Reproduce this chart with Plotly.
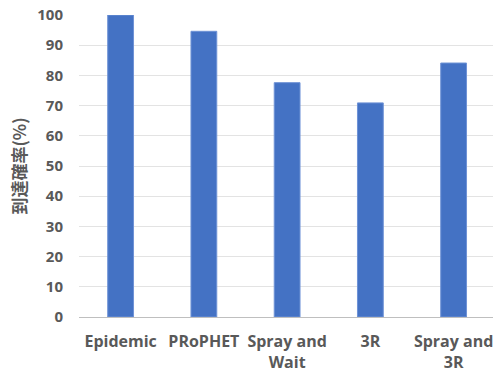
import plotly.graph_objects as go

categories = ["Epidemic", "PRoPHET", "Spray and<br>Wait", "3R", "Spray and<br>3R"]
values = [100, 94.6, 77.6, 70.9, 84.1]
y_ticks = [0, 10, 20, 30, 40, 50, 60, 70, 80, 90, 100]

FONT = "Open Sans"
GRAY = "#595959"

fig = go.Figure(
    go.Bar(
        x=list(range(len(categories))),
        y=values,
        marker=dict(color="#4472C4", line=dict(color="#6f93d6", width=1)),
        width=0.31,
    )
)

fig.update_layout(
    width=493,
    height=374,
    margin=dict(l=79, r=0, t=15, b=57),
    paper_bgcolor="white",
    plot_bgcolor="white",
    showlegend=False,
    font=dict(family=FONT, size=15, color=GRAY, weight="bold"),
)

fig.update_xaxes(
    range=[-0.5, 4.473],
    tickmode="array",
    tickvals=list(range(len(categories))),
    ticktext=categories,
    showgrid=False,
    showline=True,
    linecolor="#bfbfbf",
    linewidth=1,
    ticks="",
    ticklabelstandoff=10,
    ticklabeloverflow="allow",
    tickfont=dict(family=FONT, size=16, color=GRAY, weight="bold"),
)

fig.update_yaxes(
    range=[0, 100],
    tickmode="array",
    tickvals=y_ticks,
    ticktext=[str(v) for v in y_ticks],
    showgrid=True,
    gridcolor="#e3e3e3",
    gridwidth=1,
    zeroline=False,
    showline=False,
    ticks="",
    ticklabelstandoff=15,
    tickfont=dict(family=FONT, size=15, color=GRAY, weight="bold"),
    title=dict(
        text="到達確率(%)",
        font=dict(family="Noto Sans CJK JP", size=17, color=GRAY, weight="bold"),
        standoff=6,
    ),
)

fig.write_html("out.html")
